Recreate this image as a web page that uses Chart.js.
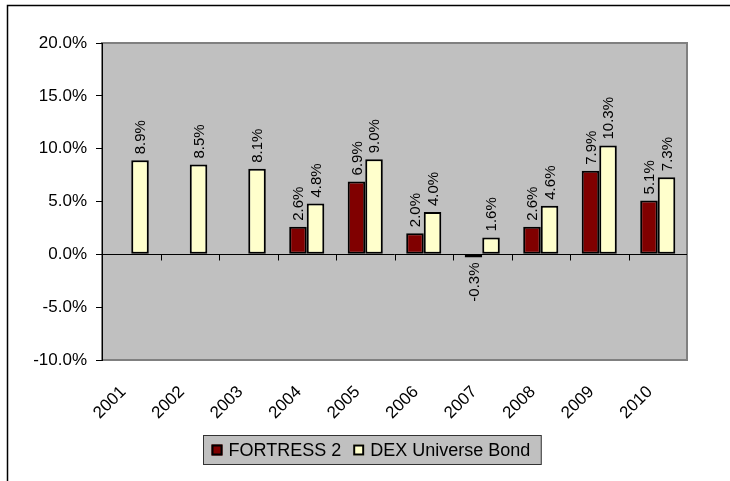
<!DOCTYPE html>
<html>
<head>
<meta charset="utf-8">
<script src="https://cdn.jsdelivr.net/npm/chart.js@4.4.1/dist/chart.umd.min.js"></script>
<style>
  html, body { margin: 0; padding: 0; background: #fff; }
  canvas { display: block; }
</style>
</head>
<body>
<canvas id="returnsChart" width="730" height="481"></canvas>
<script>
// data
const years = ['2001', '2002', '2003', '2004', '2005', '2006', '2007', '2008', '2009', '2010'];
const fortress2 = [null, null, null, 2.6, 6.9, 2.0, -0.3, 2.6, 7.9, 5.1];
const dexBond = [8.9, 8.5, 8.1, 4.8, 9.0, 4.0, 1.6, 4.6, 10.3, 7.3];
const yTicks = [-10, -5, 0, 5, 10, 15, 20];

const FONT = '"Liberation Sans", Arial, sans-serif';
Chart.defaults.font.family = FONT;
Chart.defaults.color = '#000';

// grey plot area + outer frame
const plotBackground = {
    id: 'plotBackground',
    beforeDraw(chart) {
        const ctx = chart.ctx;
        const a = chart.chartArea;
        ctx.save();
        ctx.fillStyle = '#fff';
        ctx.fillRect(0, 0, chart.width, chart.height);
        // outer frame (cut off right and bottom)
        ctx.strokeStyle = '#000';
        ctx.lineWidth = 1.5;
        ctx.beginPath();
        ctx.moveTo(7.5, chart.height + 2);
        ctx.lineTo(7.5, 5.5);
        ctx.lineTo(chart.width + 2, 5.5);
        ctx.stroke();
        // plot area
        ctx.fillStyle = '#C0C0C0';
        ctx.fillRect(a.left, a.top, a.right - a.left, a.bottom - a.top);
        ctx.strokeStyle = '#808080';
        ctx.lineWidth = 2;
        ctx.strokeRect(a.left, a.top, a.right - a.left, a.bottom - a.top);
        ctx.restore();
    },
    beforeDatasetsDraw(chart) {
        // zero line with category tick marks
        const ctx = chart.ctx;
        const a = chart.chartArea;
        const x = chart.scales.x;
        const y0 = Math.round(chart.scales.y.getPixelForValue(0)) + 0.5;
        const step = x.getPixelForValue(1) - x.getPixelForValue(0);
        ctx.save();
        ctx.strokeStyle = '#000';
        ctx.lineWidth = 1;
        ctx.beginPath();
        ctx.moveTo(a.left, y0);
        ctx.lineTo(a.right, y0);
        for (let i = 1; i < years.length; i++) {
            const bx = Math.round(x.getPixelForValue(i) - step / 2) + 0.5;
            ctx.moveTo(bx, y0);
            ctx.lineTo(bx, y0 + 6);
        }
        ctx.stroke();
        ctx.restore();
    }
};

// vertical value labels above / below bars
const valueLabels = {
    id: 'valueLabels',
    afterDatasetsDraw(chart) {
        const ctx = chart.ctx;
        ctx.save();
        ctx.font = '15px ' + FONT;
        ctx.fillStyle = '#000';
        ctx.textBaseline = 'middle';
        chart.data.datasets.forEach((ds, di) => {
            const meta = chart.getDatasetMeta(di);
            meta.data.forEach((bar, i) => {
                const v = ds.data[i];
                if (v === null || v === undefined) return;
                const pos = v >= 0;
                ctx.save();
                ctx.translate(bar.x + 1, pos ? bar.y - 6 : bar.y + 5);
                ctx.rotate(-Math.PI / 2);
                ctx.textAlign = pos ? 'left' : 'right';
                ctx.fillText(v.toFixed(1) + '%', 0, 0);
                ctx.restore();
            });
        });
        ctx.restore();
    }
};

// boxed legend below the axis labels
const boxLegend = {
    id: 'boxLegend',
    afterDraw(chart) {
        const ctx = chart.ctx;
        const sets = chart.data.datasets;
        ctx.save();
        ctx.font = '18px ' + FONT;
        const widths = sets.map(ds => ctx.measureText(ds.label).width);
        const padL = 8, padR = 11, marker = 11, gapM = 6, gapItem = 12;
        let total = padL + padR;
        widths.forEach((w, i) => { total += marker + gapM + w + (i > 0 ? gapItem : 0); });
        const cx = 371.5;
        const left = Math.round(cx - total / 2) + 0.5;
        const top = 435.5, h = 29;
        ctx.fillStyle = '#C0C0C0';
        ctx.fillRect(left, top, total, h);
        ctx.strokeStyle = '#333';
        ctx.lineWidth = 1;
        ctx.strokeRect(left, top, total, h);
        let x = left + padL;
        const my = top + h / 2;
        sets.forEach((ds, i) => {
            if (i > 0) x += gapItem;
            ctx.fillStyle = ds.backgroundColor;
            ctx.fillRect(x, my - marker / 2, marker, marker);
            ctx.strokeStyle = '#000';
            ctx.lineWidth = 2;
            ctx.strokeRect(x + 1, my - marker / 2 + 1, marker - 2, marker - 2);
            x += marker + gapM;
            ctx.fillStyle = '#000';
            ctx.textBaseline = 'middle';
            ctx.textAlign = 'left';
            ctx.fillText(ds.label, x, my + 1);
            x += widths[i];
        });
        ctx.restore();
    }
};

const chartData = {
    labels: years,
    datasets: [{
        label: 'FORTRESS 2',
        data: fortress2,
        backgroundColor: '#800000',
        borderColor: '#000',
        borderWidth: 2,
        borderSkipped: false
    }, {
        label: 'DEX Universe Bond',
        data: dexBond,
        backgroundColor: '#FFFFCC',
        borderColor: '#000',
        borderWidth: 2,
        borderSkipped: false
    }]
};

new Chart(document.getElementById('returnsChart'), {
    type: 'bar',
    data: chartData,
    options: {
        responsive: false,
        animation: false,
        devicePixelRatio: 1,
        layout: { padding: { top: 43, right: 43, bottom: 0, left: 0 } },
        datasets: { bar: { categoryPercentage: 0.6, barPercentage: 1.0 } },
        scales: {
            x: {
                grid: { display: false },
                border: { display: false },
                ticks: {
                    autoSkip: false,
                    minRotation: 45,
                    maxRotation: 45,
                    padding: 14,
                    labelOffset: -8,
                    font: { size: 17 }
                },
                afterFit(scale) { scale.height = 121; }
            },
            y: {
                min: -10,
                max: 20,
                afterBuildTicks(scale) { scale.ticks = yTicks.map(v => ({ value: v })); },
                grid: { drawOnChartArea: false, drawTicks: true, tickLength: 6, color: '#000' },
                border: { display: true, color: '#000', width: 1 },
                ticks: {
                    padding: 9,
                    font: { size: 17 },
                    callback: v => v.toFixed(1) + '%'
                },
                afterFit(scale) { scale.width = 102; }
            }
        },
        plugins: {
            legend: { display: false },
            tooltip: { enabled: false }
        }
    },
    plugins: [plotBackground, valueLabels, boxLegend]
});
</script>
</body>
</html>
